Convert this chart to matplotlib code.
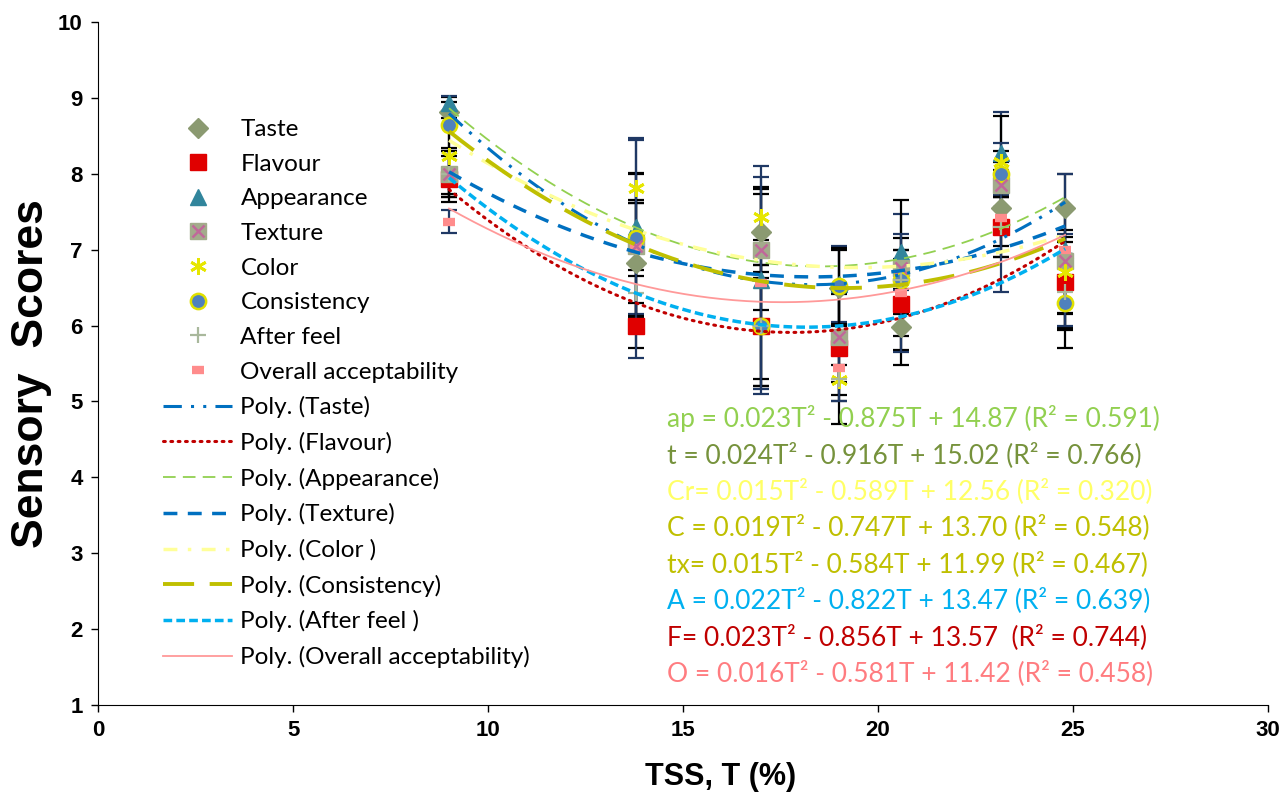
import matplotlib
matplotlib.use("Agg")
import matplotlib.pyplot as plt
import numpy as np
from matplotlib.lines import Line2D
from matplotlib.legend_handler import HandlerTuple

plt.rcParams['font.family'] = ['Liberation Sans', 'DejaVu Sans']

# TSS levels (%) and mean sensory scores
tss = [9.0, 13.8, 17.0, 19.0, 20.6, 23.15, 24.8]

taste = [8.81, 6.82, 7.23, 6.50, 5.98, 7.55, 7.55]
flavour = [7.93, 6.00, 6.00, 5.71, 6.28, 7.30, 6.57]
appearance = [8.93, 7.30, 6.60, 6.55, 6.97, 8.27, 7.00]
texture = [8.00, 7.05, 7.00, 5.85, 6.76, 7.85, 6.85]
color = [8.23, 7.81, 7.43, 5.28, 6.65, 8.16, 6.71]
consistency = [8.64, 7.15, 6.00, 6.52, 6.60, 8.00, 6.30]
after_feel = [8.00, 6.43, 6.00, 5.30, 6.60, 7.30, 6.44]
overall = [7.37, 7.02, 6.56, 5.44, 6.43, 7.42, 7.00]

# standard deviations (error bars)
taste_sd = [0.20, 0.80, 0.60, 0.50, 0.50, 0.50, 0.45]
flavour_sd = [0.30, 0.30, 0.80, 0.70, 0.60, 0.40, 0.60]
appearance_sd = [0.10, 1.15, 1.50, 0.50, 0.50, 0.55, 0.20]
texture_sd = [0.30, 0.95, 0.80, 0.60, 0.90, 0.30, 0.70]
color_sd = [0.50, 0.20, 0.30, 0.20, 0.50, 0.60, 0.55]
consistency_sd = [0.30, 0.50, 0.70, 0.50, 0.40, 0.30, 0.60]
after_feel_sd = [0.30, 0.30, 0.80, 0.60, 0.40, 0.40, 0.50]
overall_sd = [0.15, 1.45, 1.40, 0.44, 0.78, 0.98, 1.00]

equations = [
    ("ap = 0.023T² - 0.875T + 14.87 (R² = 0.591)", "#92D050"),
    ("t = 0.024T² - 0.916T + 15.02 (R² = 0.766)", "#76923C"),
    ("Cr= 0.015T² - 0.589T + 12.56 (R² = 0.320)", "#FFFF66"),
    ("C = 0.019T² - 0.747T + 13.70 (R² = 0.548)", "#BFBF00"),
    ("tx= 0.015T² - 0.584T + 11.99 (R² = 0.467)", "#BFBF00"),
    ("A = 0.022T² - 0.822T + 13.47 (R² = 0.639)", "#00B0F0"),
    ("F= 0.023T² - 0.856T + 13.57  (R² = 0.744)", "#C00000"),
    ("O = 0.016T² - 0.581T + 11.42 (R² = 0.458)", "#FF7C80"),
]

fig = plt.figure(figsize=(12.8, 7.94), dpi=100)
ax = fig.add_axes([0.0766, 0.1121, 0.9140, 0.8602])

eb = dict(capsize=6, elinewidth=1.6, capthick=1.6, linestyle='none')

series = [
    # name, y, sd, marker kwargs, err colour, trend style
    ("Taste", taste, taste_sd,
     dict(marker='D', ms=10, mfc='#8B9A71', mec='#8B9A71'), 'black',
     dict(color='#0070C0', lw=2.2, ls=(0, (6, 3, 1, 3, 1, 3)))),
    ("Flavour", flavour, flavour_sd,
     dict(marker='s', ms=11, mfc='#E00000', mec='#E00000'), 'black',
     dict(color='#C00000', lw=2.2, ls=(0, (0.6, 1.8)), dash_capstyle='round')),
    ("Appearance", appearance, appearance_sd,
     dict(marker='^', ms=11, mfc='#31859C', mec='#31859C'), '#1F3864',
     dict(color='#92D050', lw=1.3, ls=(0, (7, 4)))),
    ("Texture", texture, texture_sd,
     dict(marker='s', ms=12, mfc='#A3AB8B', mec='#A3AB8B'), 'black',
     dict(color='#0070C0', lw=2.5, ls=(0, (4, 3)))),
    ("Color", color, color_sd,
     dict(marker=(6, 2, 0), ms=12, mfc='#E6E600', mec='#E6E600', mew=2), 'black',
     dict(color='#FFFF99', lw=2.5, ls=(0, (4, 3, 1, 3)))),
    ("Consistency", consistency, consistency_sd,
     dict(marker='o', ms=11, mfc='#4F81BD', mec='#E0E000', mew=1.8), 'black',
     dict(color='#BFBF00', lw=2.8, ls=(0, (8, 4)))),
    ("After feel", after_feel, after_feel_sd,
     dict(marker='+', ms=11, mfc='#A9B89C', mec='#A9B89C', mew=1.6), 'black',
     dict(color='#00B0F0', lw=2.5, ls=(0, (2.5, 1.2)))),
    ("Overall acceptability", overall, overall_sd,
     dict(marker='_', ms=9, mfc='#FF8C8C', mec='#FF8C8C', mew=6), '#1F3864',
     dict(color='#FF9999', lw=1.3, ls='-')),
]

tgrid = np.linspace(min(tss), max(tss), 200)
marker_handles = []
line_handles = []
for name, y, sd, mk, ecol, trend in series:
    ax.errorbar(tss, y, yerr=sd, ecolor=ecol, fmt='none', zorder=2, **eb)
    ax.plot(tss, y, linestyle='none', zorder=3, **mk)
    coef = np.polyfit(tss, y, 2)
    ax.plot(tgrid, np.polyval(coef, tgrid), zorder=4, **trend)
    h = Line2D([], [], linestyle='none', **mk)
    if name == "Texture":
        ax.plot(tss, y, linestyle='none', marker='x', ms=8, mec='#C0689A',
                mew=1.8, zorder=3.5)
        h = (h, Line2D([], [], linestyle='none', marker='x', ms=8,
                       mec='#C0689A', mew=1.8))
    marker_handles.append((h, name))
    lbl = "Poly. (" + name + ")"
    if name in ("Color", "After feel"):
        lbl = "Poly. (" + name + " )"
    line_handles.append((Line2D([], [], **trend), lbl))

handles = [h for h, _ in marker_handles + line_handles]
labels = [l for _, l in marker_handles + line_handles]
ax.legend(handles, labels, loc='upper left', bbox_to_anchor=(0.0453, 0.8756),
          frameon=False, labelspacing=0.56, handlelength=2.85,
          handletextpad=0.33, borderpad=0,
          prop={'family': ['Lato', 'DejaVu Sans'], 'size': 17.5},
          handler_map={tuple: HandlerTuple(ndivide=1)})

for i, (txt, col) in enumerate(equations):
    ax.text(14.6, 4.78 - i * 0.48, txt, color=col, fontsize=19,
            family=['Lato', 'DejaVu Sans'], va='center', ha='left', zorder=5)

ax.set_xlim(0, 30)
ax.set_ylim(1, 10)
ax.set_xticks(range(0, 31, 5))
ax.set_yticks(range(1, 11))
ax.tick_params(direction='out', length=5, width=1, labelsize=16, pad=6)
for lab in ax.get_xticklabels() + ax.get_yticklabels():
    lab.set_fontweight('bold')
ax.spines['top'].set_visible(False)
ax.spines['right'].set_visible(False)
ax.set_xlabel("TSS, T (%)", fontsize=22, fontweight='bold')
ax.xaxis.set_label_coords(0.532, -0.083)
ax.set_ylabel("Sensory  Scores", fontsize=32, fontweight='bold')
ax.yaxis.set_label_coords(-0.039, 0.485)

fig.savefig("out.png", dpi=100)
